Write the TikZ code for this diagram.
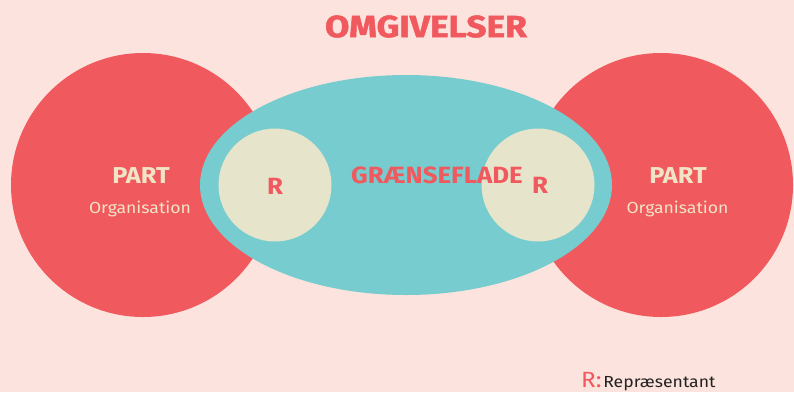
\documentclass[tikz,border=0pt]{standalone}
\usepackage{fontspec}
\setmainfont[FakeStretch=1.1]{Fira Sans}
\newfontfamily\titlefont[FakeStretch=1.16,FakeBold=1.6]{Fira Sans}
\usepackage{tikz}
\usetikzlibrary{positioning,shapes.geometric}
\definecolor{bgpink}{HTML}{FDE3DD}
\definecolor{partred}{HTML}{F05A5E}
\definecolor{fladeteal}{HTML}{76CCCE}
\definecolor{repcream}{HTML}{E6E4CB}
\definecolor{parttext}{HTML}{F1E4C6}
\definecolor{legtext}{HTML}{222222}
\tikzstyle{part} = [circle,fill=partred,minimum size=264pt,inner sep=0]
\tikzstyle{grflade} = [ellipse,fill=fladeteal,minimum width=412pt,minimum height=220pt,inner sep=0]
\tikzstyle{rep} = [circle,fill=repcream,minimum size=113pt,inner sep=0]
\tikzstyle{partname} = [text=parttext,font=\fontsize{23}{26}\selectfont\bfseries,inner sep=0]
\tikzstyle{orgname} = [text=parttext,font=\fontsize{16}{19}\selectfont,inner sep=0,anchor=base]
\tikzstyle{repname} = [text=partred,font=\fontsize{23.5}{26}\selectfont\bfseries,inner sep=0]

\begin{document}
\begin{tikzpicture}[x=1pt,y=-1pt]
				\useasboundingbox[fill=bgpink] (0,0) rectangle (794,392);
				\begin{scope}
					\node[part] (partL) at (143,185) {};
					\node[part] (partR) at (661,185) {};
					\node[grflade] (flade) at (406,185) {};
					\node[rep] (repL) at (275,185) {};
					\node[rep] (repR) at (538,185) {};

					\node[text=partred,font=\titlefont\fontsize{30.5}{34}\selectfont\bfseries,inner sep=0] (omg) at (426,26.5) {OMGIVELSER};
					\node[repname] (fladename) at (437,175.5) {GRÆNSEFLADE};
					\node[repname] (rL) at (275,186) {R};
					\node[repname] (rR) at (540,185) {R};

					\node[partname] (pnL) at (141,176) {PART};
					\node[orgname] (orgL) at (140,213) {Organisation};
					\node[partname] (pnR) at (678,176) {PART};
					\node[orgname] (orgR) at (677.5,213) {Organisation};

					\node[anchor=base west,inner sep=0] (legend) at (581,387)
						{\textcolor{partred}{\fontsize{22}{24}\selectfont R:}\,\textcolor{legtext}{\fontsize{16}{18}\selectfont Repræsentant}};
				\end{scope}
			\end{tikzpicture}
\end{document}
